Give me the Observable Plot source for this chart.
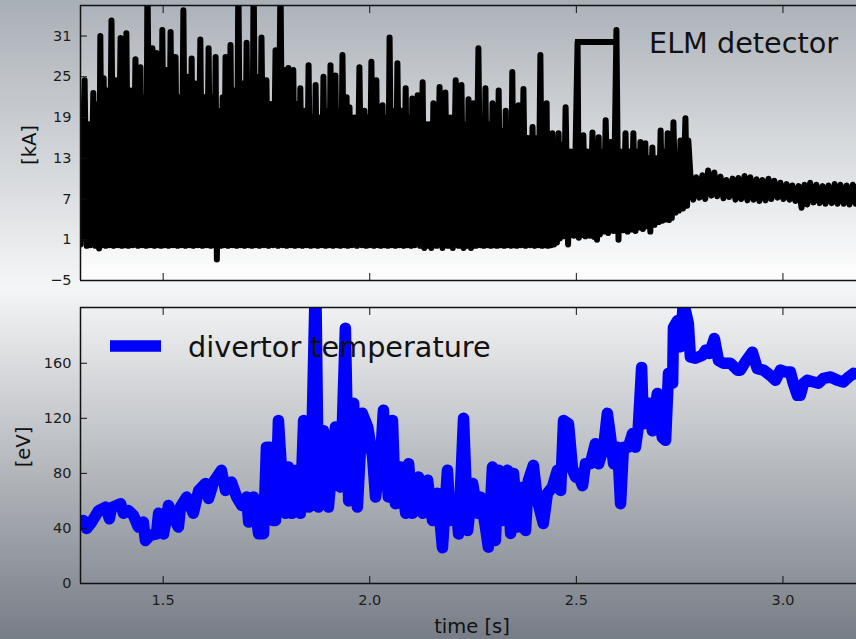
<!DOCTYPE html>
<html><head><meta charset="utf-8">
<script src="https://cdn.jsdelivr.net/npm/d3@7"></script>
<script src="https://cdn.jsdelivr.net/npm/@observablehq/plot@0.6"></script>
<style>
html,body{margin:0;padding:0;overflow:hidden;background:#fff;}
#fig{position:relative;width:856px;height:639px;overflow:hidden;
 background:linear-gradient(to bottom,#a9afb6 0px,#f4f5f6 286px,#f3f4f5 292px,#777d86 639px);
 font-family:"DejaVu Sans",sans-serif;}
#fig svg{display:block;}
.overlay{position:absolute;left:0;top:0;pointer-events:none;}
</style></head><body>
<svg width="0" height="0" style="position:absolute">
<defs>
<linearGradient id="gTop" x1="0" y1="0" x2="0" y2="1"><stop offset="0" stop-color="#adb3ba"/><stop offset="1" stop-color="#ffffff"/></linearGradient>
<linearGradient id="gBot" x1="0" y1="0" x2="0" y2="1"><stop offset="0" stop-color="#f0f1f2"/><stop offset="1" stop-color="#8b9199"/></linearGradient>
</defs></svg>
<div id="fig"></div>
<script>
// ELM detector signal [time s, kA]
const elmSeries = [
[1.300,0.3],[1.310,24.5],[1.315,0.1],[1.319,18],[1.324,0.2],[1.331,22.6],[1.336,0.1],[1.341,21],[1.345,-0.3],[1.348,31],
[1.352,0.2],[1.356,24.8],[1.361,0.1],[1.365,23],[1.370,0.2],[1.375,33.3],[1.380,0.1],[1.385,24.5],[1.391,0.2],[1.397,30.7],
[1.400,0.1],[1.404,23],[1.408,0.2],[1.411,31.4],[1.416,0.1],[1.421,23],[1.427,0.2],[1.433,27.6],[1.439,0.1],[1.445,26.4],
[1.450,0.2],[1.455,22],[1.459,0.1],[1.462,40],[1.468,0.2],[1.474,29.2],[1.479,0.1],[1.484,28.5],[1.488,0.2],[1.491,24],
[1.495,0.1],[1.498,31.9],[1.503,0.2],[1.508,26],[1.513,0.1],[1.518,31.6],[1.524,0.2],[1.530,27.9],[1.535,0.1],[1.540,22],
[1.544,0.2],[1.549,34.8],[1.554,0.1],[1.559,25],[1.564,0.2],[1.569,27.7],[1.573,0.1],[1.578,24],[1.584,0.2],[1.590,30.5],
[1.595,0.1],[1.600,22],[1.605,0.2],[1.610,29.2],[1.615,0.1],[1.619,22],[1.623,0.2],[1.627,27.9],[1.630,-1.9],[1.634,20],
[1.639,0.1],[1.644,22],[1.647,0.2],[1.651,27.9],[1.657,0.1],[1.663,29.7],[1.668,0.2],[1.673,23],[1.678,0.1],[1.682,40],
[1.687,0.2],[1.692,24],[1.697,0.1],[1.702,30],[1.707,0.2],[1.711,23],[1.715,0.1],[1.719,40],[1.724,0.2],[1.728,25],
[1.733,0.1],[1.738,30.8],[1.744,0.2],[1.750,24.5],[1.755,0.1],[1.760,21],[1.766,0.2],[1.772,28.9],[1.778,0.1],[1.784,40],
[1.789,0.2],[1.794,26],[1.799,0.1],[1.803,26.3],[1.809,0.2],[1.815,26],[1.819,0.1],[1.823,21],[1.828,0.2],[1.832,23.3],
[1.837,0.1],[1.842,20],[1.847,0.2],[1.852,26.7],[1.857,0.1],[1.861,19],[1.865,0.2],[1.869,23.8],[1.874,0.1],[1.878,19],
[1.883,0.2],[1.888,25],[1.893,0.1],[1.898,20],[1.901,0.2],[1.905,26.7],[1.911,0.1],[1.917,25.2],[1.921,0.2],[1.924,20],
[1.929,0.1],[1.934,28.2],[1.939,0.2],[1.944,22],[1.947,0.1],[1.951,20.5],[1.957,0.2],[1.963,19],[1.969,0.1],[1.975,26.4],
[1.981,0.2],[1.987,20],[1.991,0.1],[1.995,19],[1.999,0.2],[2.004,27.2],[2.010,0.1],[2.016,24.5],[2.020,0.2],[2.024,20],
[2.027,0.1],[2.031,20.8],[2.036,0.2],[2.041,19],[2.044,0.1],[2.048,30.8],[2.053,0.2],[2.057,20],[2.062,0.1],[2.067,27],
[2.072,0.2],[2.077,20],[2.082,0.1],[2.087,23.3],[2.091,0.2],[2.096,19],[2.100,0.1],[2.103,21.8],[2.109,0.2],[2.116,22.3],
[2.122,0.1],[2.128,24.2],[2.132,-0.2],[2.137,18],[2.141,0.1],[2.145,18],[2.149,-0.2],[2.154,21.1],[2.162,0.1],[2.169,23.5],
[2.176,-0.2],[2.183,22.7],[2.189,0.1],[2.195,19],[2.201,-0.2],[2.208,24.5],[2.215,0.1],[2.222,23.8],[2.227,-0.2],[2.232,18],
[2.235,0.1],[2.239,21.7],[2.245,-0.2],[2.251,21.1],[2.257,0.1],[2.263,29.2],[2.268,0.2],[2.273,18],[2.276,0.1],[2.280,23.3],
[2.285,0.2],[2.290,18],[2.293,0.1],[2.297,21.1],[2.301,0.2],[2.304,18],[2.308,0.1],[2.312,23],[2.316,0.2],[2.321,17],
[2.325,0.1],[2.329,20],[2.332,0.2],[2.336,17],[2.341,0.1],[2.345,25.7],[2.349,0.2],[2.353,17],[2.356,0.1],[2.360,20.8],
[2.366,0.2],[2.372,23.2],[2.377,0.1],[2.382,16],[2.388,0.2],[2.394,17.6],[2.399,0.1],[2.404,16],[2.408,0.2],[2.413,28.2],
[2.417,0.1],[2.420,17],[2.424,0.2],[2.428,21.1],[2.431,0.1],[2.435,15],[2.439,0.2],[2.442,16.7],[2.446,0.3],[2.450,15],
[2.453,0.6],[2.457,16.7],[2.460,1.2],[2.464,15],[2.469,1.5],[2.474,20.5],[2.480,0.3],[2.486,14],[2.494,1.6],[2.503,30.1],
[2.506,1.3],[2.510,15],[2.514,1.7],[2.517,16.4],[2.522,1.5],[2.527,14],[2.533,1.6],[2.539,16.8],[2.543,1.4],[2.546,14],
[2.550,1.0],[2.554,16.1],[2.557,1.8],[2.561,14],[2.566,2.2],[2.571,18.6],[2.577,2.0],[2.583,15.4],[2.590,2.3],[2.597,31.9],
[2.602,1.0],[2.607,14],[2.613,2.4],[2.619,16.7],[2.624,2.2],[2.629,14],[2.633,2.5],[2.638,16.7],[2.643,2.3],[2.648,14],
[2.652,2.8],[2.655,15.4],[2.661,2.6],[2.667,15.2],[2.671,3.0],[2.675,13],[2.679,2.2],[2.684,14.6],[2.689,3.2],[2.694,13],
[2.699,3.6],[2.704,17.1],[2.708,3.8],[2.713,14],[2.717,4.0],[2.721,16.7],[2.724,3.9],[2.728,13],[2.731,4.2],[2.735,18.3],
[2.740,5.0],[2.745,13],[2.748,5.3],[2.752,15.6],[2.758,5.6],[2.764,18.9],[2.768,6.0],[2.771,15.6],
[2.776,10.6],[2.783,6.9],[2.790,10.2],[2.798,7.2],[2.805,10.5],[2.812,7.0],[2.819,11.2],[2.827,7.5],[2.834,10.9],[2.841,7.4],
[2.849,10.3],[2.856,7.1],[2.863,9.8],[2.870,7.3],[2.878,10.0],[2.885,6.9],[2.892,10.1],[2.899,7.0],[2.907,10.4],[2.914,6.8],
[2.921,10.2],[2.929,6.9],[2.936,9.9],[2.943,6.7],[2.950,9.8],[2.958,6.8],[2.965,10.0],[2.972,7.0],[2.979,9.7],[2.987,7.2],
[2.994,9.4],[3.001,7.0],[3.009,9.2],[3.016,6.9],[3.023,9.0],[3.030,6.7],[3.038,8.9],[3.045,5.7],[3.052,9.1],[3.059,6.2],
[3.066,9.4],[3.074,6.5],[3.081,9.1],[3.089,6.4],[3.096,8.9],[3.103,6.3],[3.110,9.0],[3.118,6.4],[3.125,9.2],[3.132,6.3],
[3.139,9.1],[3.147,6.3],[3.154,9.0],[3.161,6.2],[3.169,9.1],[3.176,6.3],[3.183,9.0]
];
// divertor temperature [time s, eV]
const tempSeries = [
[1.300,45],[1.307,45.8],[1.315,40],[1.327,44.6],[1.344,53],[1.361,55.5],[1.370,47],[1.375,55],[1.397,58],[1.404,51],
[1.416,53],[1.428,49.5],[1.440,41],[1.452,44.6],[1.457,31.3],[1.469,35],[1.484,36],[1.489,51],[1.501,36],[1.513,56.7],
[1.525,48],[1.537,41],[1.542,55.5],[1.557,62.8],[1.573,51],[1.586,67.6],[1.603,72.7],[1.610,61.8],[1.622,73.7],[1.641,82.2],
[1.651,67.6],[1.665,73.7],[1.678,62.8],[1.690,56.7],[1.702,62.8],[1.707,44.6],[1.719,62.8],[1.731,36.2],[1.743,36.2],[1.750,99],
[1.760,99],[1.765,45.8],[1.772,45.8],[1.779,118.5],[1.786,84.6],[1.796,51],[1.803,84.6],[1.811,51],[1.823,82.2],[1.832,51],
[1.840,118.5],[1.852,55.5],[1.859,91.8],[1.869,230],[1.876,55.5],[1.888,111],[1.900,55.5],[1.917,113.7],[1.929,70],[1.941,185.5],
[1.949,60],[1.961,131],[1.970,55.5],[1.982,123.6],[1.995,113.7],[2.007,91.8],[2.014,62.8],[2.026,89.5],[2.033,125.8],[2.045,62.8],
[2.055,118.5],[2.062,58],[2.074,84.6],[2.087,51],[2.094,87],[2.103,51],[2.118,77.3],[2.128,51],[2.140,75],[2.152,45.8],
[2.164,65.5],[2.176,26],[2.188,82.2],[2.195,45.8],[2.208,60],[2.215,36],[2.227,120],[2.237,38.5],[2.249,72.7],[2.261,51],
[2.268,62.8],[2.280,41],[2.287,26.4],[2.297,84.6],[2.304,31.3],[2.312,82.2],[2.321,45.8],[2.333,82.2],[2.341,36.4],[2.348,80],
[2.358,41],[2.370,70],[2.377,38.5],[2.384,75],[2.396,85.8],[2.406,60],[2.420,43.6],[2.430,65.5],[2.442,70],[2.454,82.2],
[2.462,67.6],[2.469,118.5],[2.481,116],[2.491,82.2],[2.498,77.3],[2.503,80],[2.515,71],[2.522,87],[2.534,87],[2.546,101.6],
[2.554,87],[2.566,99],[2.575,123.6],[2.583,106],[2.590,87],[2.600,99],[2.607,58],[2.614,99],[2.626,99],[2.636,109],
[2.643,99],[2.650,113.7],[2.658,157],[2.662,116],[2.675,131],[2.684,111],[2.696,138],[2.708,106],[2.716,104],[2.723,152.7],
[2.733,145.5],[2.735,186],[2.745,191],[2.752,172],[2.759,205],[2.771,189],[2.776,164.6],[2.788,163.6],[2.805,165.8],[2.813,169.5],
[2.822,167],[2.834,178],[2.844,162],[2.856,160],[2.873,160],[2.890,155],[2.897,155],[2.909,161],[2.926,168],[2.938,156],
[2.953,155],[2.970,151],[2.982,147.6],[2.994,155],[3.006,153.7],[3.018,153.7],[3.025,145.5],[3.035,136.7],[3.042,136.7],[3.050,145.5],
[3.059,147.6],[3.074,146.4],[3.086,145.5],[3.098,149],[3.115,150],[3.132,147.6],[3.146,146.4],[3.159,150],[3.171,152.7],[3.183,152]
];
const xTicks = [1.5, 2.0, 2.5, 3.0];
const kaTicks = [-5, 1, 7, 13, 19, 25, 31];
const evTicks = [0, 40, 80, 120, 160];
const xDomain = [1.3, 3.178];
const kaDomain = [-5, 35.5];
const evDomain = [0, 200.5];
const labels = {elm: "ELM detector", temp: "divertor temperature", ka: "[kA]", ev: "[eV]", time: "time [s]"};

const elm = elmSeries.map(([t, v]) => ({t, v}));
const temp = tempSeries.map(([t, v]) => ({t, v}));
const minusFmt = d => d < 0 ? "\u2212" + Math.abs(d) : String(d);
const style = {background: "transparent", fontFamily: "'DejaVu Sans', sans-serif", fontSize: "14.5px", color: "#1c1c1c", overflow: "visible"};
const spine = {stroke: "#111", strokeWidth: 1.5};

function panel({data, height, marginTop, marginBottom, yDomain, yTicks, yFmt, grad, stroke, strokeWidth, xLabels}) {
  return Plot.plot({
    width: 856, height, marginTop, marginBottom, marginLeft: 80, marginRight: 0,
    style,
    x: {domain: xDomain},
    y: {domain: yDomain},
    marks: [
      Plot.frame({fill: grad, stroke: "none"}),
      Plot.line(data, {x: "t", y: "v", stroke, strokeWidth, strokeLinejoin: "round", strokeLinecap: "round", clip: true}),
      Plot.axisY(yTicks, {anchor: "left", tickSize: 0, tickPadding: 9, tickFormat: yFmt, label: null}),
      Plot.axisY(yTicks, {anchor: "left", tickSize: -7, fill: "none", stroke: "#111", label: null}),
      Plot.axisX(xTicks, {anchor: "bottom", tickSize: -7, fill: "none", stroke: "#111", label: null}),
      Plot.axisX(xTicks, {anchor: "top", tickSize: -7, fill: "none", stroke: "#111", label: null}),
      xLabels ? Plot.axisX(xTicks, {anchor: "bottom", tickSize: 0, tickPadding: 11, tickFormat: d3.format(".1f"), label: null}) : null,
      Plot.ruleX([xDomain[0]], spine),
      Plot.ruleY(yDomain, spine)
    ]
  });
}

const fig = document.getElementById("fig");
fig.append(panel({data: elm, height: 290, marginTop: 5, marginBottom: 10, yDomain: kaDomain, yTicks: kaTicks, yFmt: minusFmt,
  grad: "url(#gTop)", stroke: "#000", strokeWidth: 6, xLabels: false}));
fig.append(panel({data: temp, height: 349, marginTop: 17, marginBottom: 56, yDomain: evDomain, yTicks: evTicks, yFmt: minusFmt,
  grad: "url(#gBot)", stroke: "#0000ff", strokeWidth: 11.5, xLabels: true}));

// overlay: legends and axis titles
const ov = d3.select(fig).append("svg").attr("class", "overlay").attr("width", 856).attr("height", 639)
  .style("font-family", "'DejaVu Sans', sans-serif").style("fill", "#111");
ov.append("line").attr("x1", 575).attr("x2", 619).attr("y1", 42).attr("y2", 42).attr("stroke", "#000").attr("stroke-width", 6);
ov.append("text").attr("x", 649).attr("y", 53).attr("font-size", 28.7).text(labels.elm);
ov.append("line").attr("x1", 110).attr("x2", 161).attr("y1", 346).attr("y2", 346).attr("stroke", "#0000ff").attr("stroke-width", 11.5);
ov.append("text").attr("x", 188).attr("y", 357).attr("font-size", 28.7).text(labels.temp);
ov.append("text").attr("transform", "translate(29,145) rotate(-90)").attr("text-anchor", "middle").attr("dominant-baseline", "central").attr("font-size", 19.5).text(labels.ka);
ov.append("text").attr("transform", "translate(23,447) rotate(-90)").attr("text-anchor", "middle").attr("dominant-baseline", "central").attr("font-size", 19.5).text(labels.ev);
ov.append("text").attr("x", 472).attr("y", 626).attr("text-anchor", "middle").attr("dominant-baseline", "central").attr("font-size", 19.5).text(labels.time);
</script>
</body></html>
